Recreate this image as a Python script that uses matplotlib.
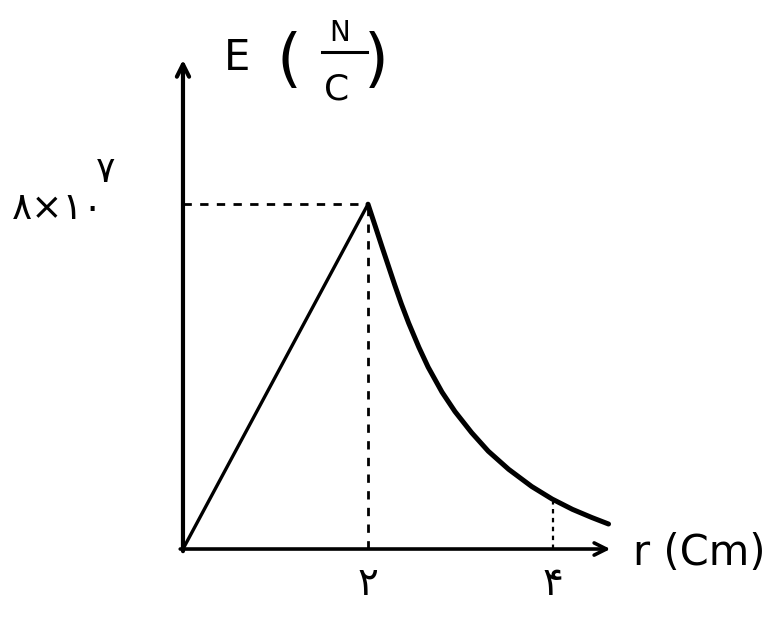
import matplotlib
matplotlib.use("Agg")
from matplotlib import pyplot as plt

plt.rcParams['font.family'] = ['DejaVu Sans']
plt.rcParams['mathtext.fontset'] = 'dejavusans'

# E (in 1e7 N/C) against r (cm)
r_rise = [0.0, 2.0]
e_rise = [0.0, 8.0]
r_fall = [2.0, 2.08, 2.15, 2.22, 2.29, 2.36, 2.44, 2.55, 2.65, 2.80, 2.94,
          3.12, 3.30, 3.52, 3.77, 3.99, 4.21, 4.42, 4.60]
e_fall = [8.0, 7.48, 7.02, 6.57, 6.12, 5.69, 5.24, 4.68, 4.22, 3.64, 3.19,
          2.70, 2.27, 1.85, 1.45, 1.16, 0.92, 0.73, 0.58]
r_peak = 2.0
e_peak = 8.0
r_mark = 4.0
e_mark = 1.1
x_ticks = [2.0, 4.0]
x_tick_labels = ['۲', '۴']
y_label_value = '۸×۱۰'
y_label_exp = '۷'

fig = plt.figure(figsize=(7.83, 6.2), dpi=100)
ax = fig.add_axes([0, 0, 1, 1])
ax.set_xlim(-1.978, 6.486)
ax.set_ylim(-1.647, 12.738)
ax.axis('off')

# axes drawn as arrows
ax.annotate('', xy=(0, 11.35), xytext=(0, -0.05),
            arrowprops=dict(arrowstyle='->', lw=3, color='black',
                            mutation_scale=22, shrinkA=0, shrinkB=0))
ax.annotate('', xy=(4.62, 0), xytext=(-0.03, 0),
            arrowprops=dict(arrowstyle='->', lw=2.6, color='black',
                            mutation_scale=22, shrinkA=0, shrinkB=0))

ax.plot(r_rise, e_rise, color='black', lw=2.4, solid_capstyle='round')
ax.plot(r_fall, e_fall, color='black', lw=3.6, solid_capstyle='round',
        solid_joinstyle='round')

# guide lines
ax.plot([0, r_peak], [e_peak, e_peak], color='black', lw=2, ls=(0, (3, 3)))
ax.plot([r_peak, r_peak], [0, e_peak], color='black', lw=2, ls=(0, (3, 3)))
ax.plot([r_mark, r_mark], [0, e_mark], color='black', lw=1.6, ls=(0, (2, 2)))

for xt, lab in zip(x_ticks, x_tick_labels):
    ax.text(xt, -0.37, lab, fontsize=28, ha='center', va='top')

ax.text(4.86, -0.09, 'r (Cm)', fontsize=30, ha='left', va='center')
ax.text(-0.86, 7.89, y_label_value, fontsize=27, ha='right', va='center')
ax.text(-0.84, 8.75, y_label_exp, fontsize=26, ha='center', va='center')

# E (N/C) written as separate pieces like the hand drawing
ax.text(0.584, 11.39, 'E', fontsize=30, ha='center', va='center')
ax.text(1.146, 11.30, '(', fontsize=46, ha='center', va='center')
ax.text(1.697, 11.97, 'N', fontsize=20, ha='center', va='center')
ax.plot([1.50, 1.99], [11.53, 11.53], color='black', lw=2.2)
ax.text(1.665, 10.67, 'C', fontsize=26, ha='center', va='center')
ax.text(2.086, 11.30, ')', fontsize=46, ha='center', va='center')

fig.savefig('out.png', dpi=100)
